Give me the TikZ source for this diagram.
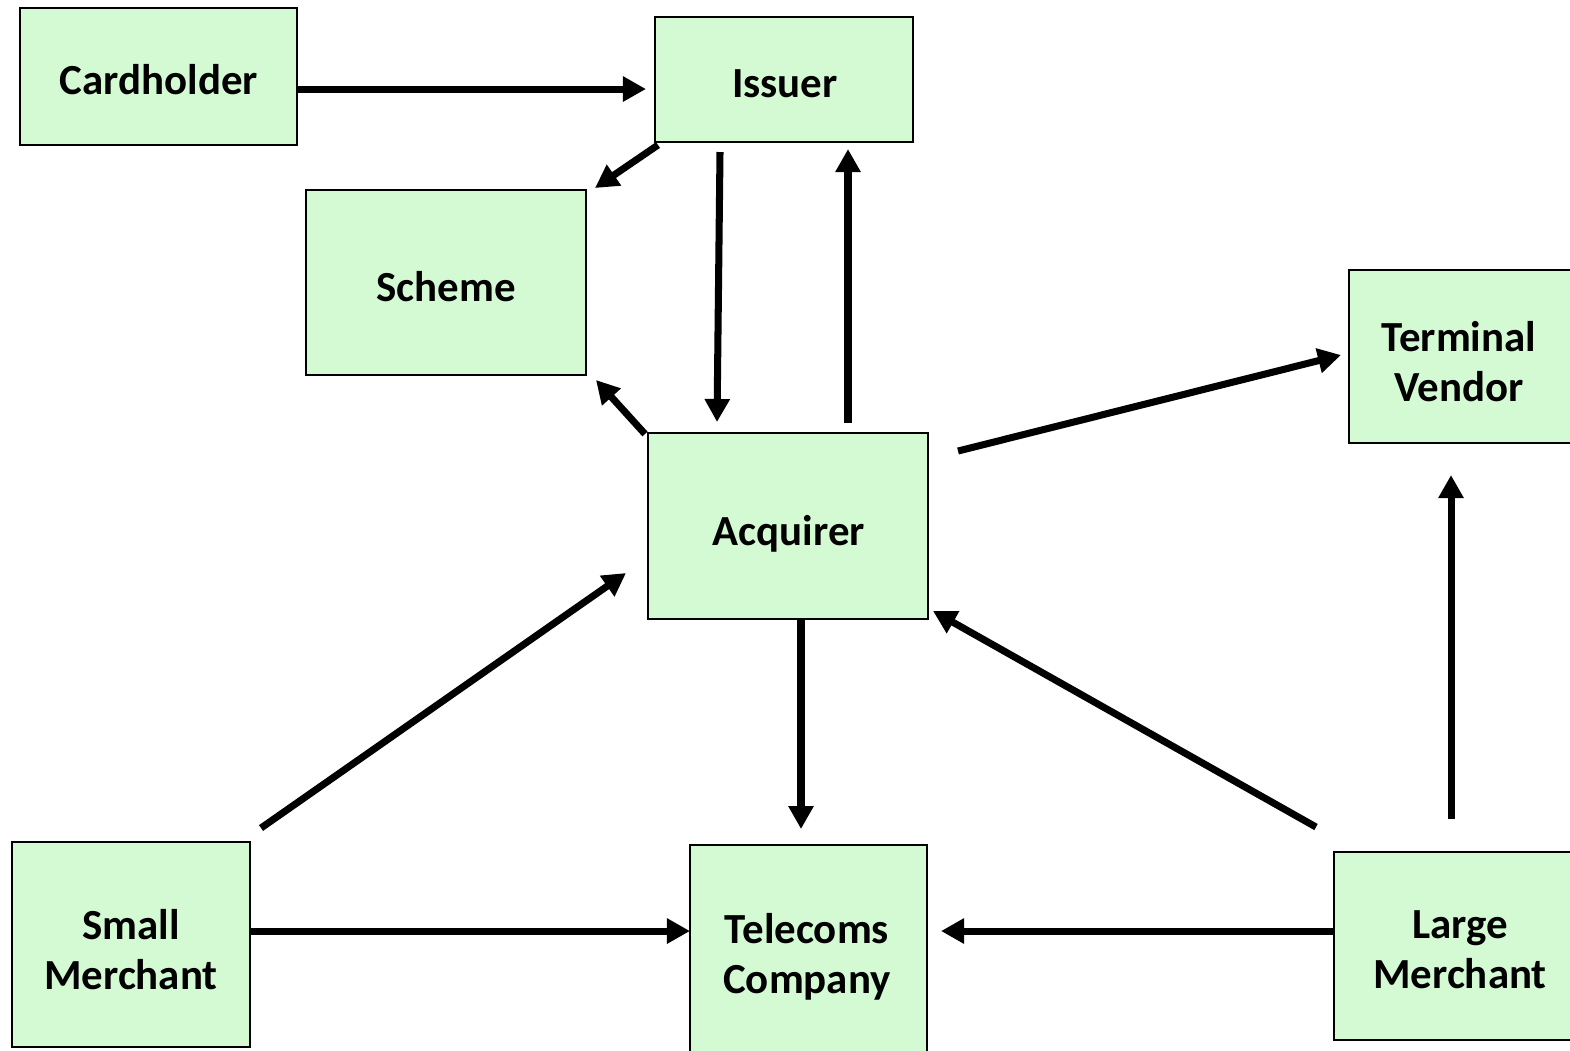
\documentclass[tikz,border=0pt]{standalone}
\usepackage{fontspec}
\setmainfont{Carlito}
\usetikzlibrary{arrows.meta}
\definecolor{boxfill}{RGB}{212,250,212}
\tikzset{
  box/.style={draw=black, line width=0.45pt, fill=boxfill, inner sep=0pt},
  txt/.style={align=center, font=\fontsize{12.2}{14.2}\selectfont\bfseries, inner sep=0pt},
  flow/.style={line width=2pt, -{Triangle[length=0.23cm,width=0.24cm]}}
}
\begin{document}
\begin{tikzpicture}[x=0.01cm,y=-0.01cm]
\useasboundingbox (0,0) rectangle (1570,1050);
% boxes
\node[box, minimum width=2.77cm, minimum height=1.37cm] (card) at (158.5,76.5) {};
\node[box, minimum width=2.58cm, minimum height=1.25cm] (issuer) at (784,79.5) {};
\node[box, minimum width=2.80cm, minimum height=1.85cm] (scheme) at (446,282.5) {};
\node[box, minimum width=2.24cm, minimum height=1.73cm] (term) at (1461,356.5) {};
\node[box, minimum width=2.80cm, minimum height=1.86cm] (acq) at (788,526) {};
\node[box, minimum width=2.38cm, minimum height=2.05cm] (small) at (131,944.5) {};
\node[box, minimum width=2.37cm, minimum height=2.12cm] (tele) at (808.5,951) {};
\node[box, minimum width=2.40cm, minimum height=1.88cm] (large) at (1454,946) {};
% texts
\node[txt] (cardT) at (159,80) {Cardholder};
\node[txt] (issuerT) at (785,84) {Issuer};
\node[txt] (schemeT) at (446,287) {Scheme};
\node[txt] (termT) at (1459,362) {Terminal\\Vendor};
\node[txt] (acqT) at (789,534) {Acquirer};
\node[txt] (smallT) at (131,949.5) {Small\\Merchant};
\node[txt] (teleT) at (807,957) {Telecoms\\Company};
\node[txt] (largeT) at (1460,950) {Large\\Merchant};
% connector end points
\coordinate (a1) at (297,89);   \coordinate (b1) at (646,89);
\coordinate (a2) at (658,145);  \coordinate (b2) at (595,188);
\coordinate (a3) at (720,152);  \coordinate (b3) at (717,422);
\coordinate (a4) at (848,423);  \coordinate (b4) at (848,149);
\coordinate (a5) at (645,434);  \coordinate (b5) at (596,380);
\coordinate (a6) at (958,451);  \coordinate (b6) at (1341,355);
\coordinate (a7) at (261,828);  \coordinate (b7) at (626,573);
\coordinate (a8) at (801,618);  \coordinate (b8) at (801,829);
\coordinate (a9) at (1316,827); \coordinate (b9) at (933,611);
\coordinate (a10) at (1451,819); \coordinate (b10) at (1451,475);
\coordinate (a11) at (250,931); \coordinate (b11) at (690,931);
\coordinate (a12) at (1334,931); \coordinate (b12) at (941,931);
% connectors
\draw[flow] (a1) -- (b1);
\draw[flow] (a2) -- (b2);
\draw[flow] (a3) -- (b3);
\draw[flow] (a4) -- (b4);
\draw[flow] (a5) -- (b5);
\draw[flow] (a6) -- (b6);
\draw[flow] (a7) -- (b7);
\draw[flow] (a8) -- (b8);
\draw[flow] (a9) -- (b9);
\draw[flow] (a10) -- (b10);
\draw[flow] (a11) -- (b11);
\draw[flow] (a12) -- (b12);
\end{tikzpicture}
\end{document}
